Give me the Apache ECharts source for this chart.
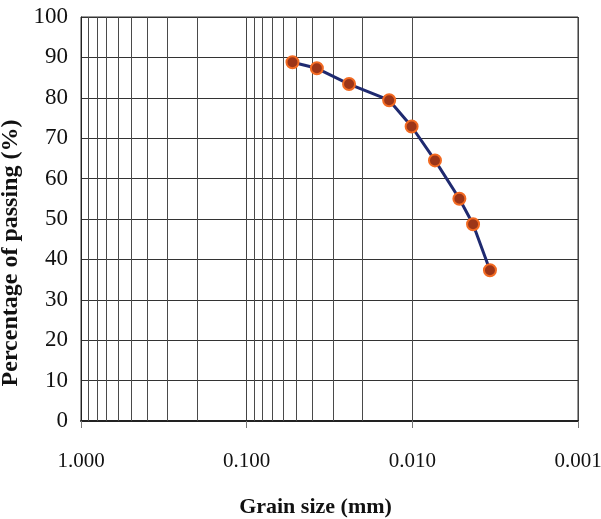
<!DOCTYPE html>
<html>
<head>
<meta charset="utf-8">
<script src="https://cdn.jsdelivr.net/npm/echarts@6/dist/echarts.min.js"></script>
<style>
  html, body { margin: 0; padding: 0; background: #fff; }
  #chart { width: 601px; height: 519px; }
</style>
</head>
<body>
<div id="chart"></div>
<script>
// grain size distribution (hydrometer part)
var grainSize = [0.0529, 0.0377, 0.0241, 0.0138, 0.0101, 0.0073, 0.0052, 0.0043, 0.0034];
var passing = [88.8, 87.3, 83.4, 79.4, 72.9, 64.5, 55.0, 48.7, 37.3];

// log grid: decades and the minor lines inside each decade
var decades = [1, 0.1, 0.01];
var minorSteps = [0.9, 0.8, 0.7, 0.6, 0.5, 0.4, 0.3, 0.2];

var serif = '"Liberation Serif", "Times New Roman", serif';

var minorLines = [];
decades.forEach(function (d) {
  minorSteps.forEach(function (m) {
    minorLines.push({ xAxis: +(d * m).toPrecision(3) });
  });
});

var chart = echarts.init(document.getElementById('chart'));
chart.setOption({
  animation: false,
  grid: {
    left: 81, right: 23, top: 17, bottom: 98,
    outerBoundsMode: 'none',
    containLabel: false,
    show: true,
    borderColor: '#333',
    borderWidth: 1
  },
  xAxis: {
    type: 'log',
    logBase: 10,
    min: 0.001,
    max: 1,
    inverse: true,
    name: 'Grain size (mm)',
    nameLocation: 'middle',
    nameGap: 75,
    nameTextStyle: {
      fontFamily: serif, fontSize: 22, fontWeight: 'bold', color: '#111',
      padding: [0, 28, 0, 0]
    },
    axisLine: { lineStyle: { color: '#222', width: 2 } },
    axisTick: { show: true, length: 7, lineStyle: { color: '#777' } },
    axisLabel: {
      margin: 30,
      fontFamily: serif,
      fontSize: 21,
      color: '#111',
      formatter: function (v) { return v.toFixed(3); }
    },
    splitLine: { show: true, lineStyle: { color: '#444', width: 1 } }
  },
  yAxis: {
    type: 'value',
    min: 0,
    max: 100,
    interval: 10,
    name: 'Percentage of passing (%)',
    nameLocation: 'middle',
    nameGap: 47,
    nameTextStyle: {
      fontFamily: serif, fontSize: 24, fontWeight: 'bold', color: '#111',
      padding: [0, 68, 0, 0]
    },
    axisLine: { show: true, lineStyle: { color: '#222', width: 1 } },
    axisTick: { show: false },
    axisLabel: { margin: 13, fontFamily: serif, fontSize: 23, color: '#111' },
    splitLine: { show: true, lineStyle: { color: '#333', width: 1 } }
  },
  series: [
    {
      type: 'line',
      data: [],
      silent: true,
      markLine: {
        silent: true,
        symbol: 'none',
        label: { show: false },
        lineStyle: { color: '#4a4a4a', width: 1, type: 'solid' },
        data: minorLines
      }
    },
    {
      type: 'line',
      data: grainSize.map(function (g, i) { return [g, passing[i]]; }),
      lineStyle: { color: '#1f2a70', width: 3 },
      symbol: 'circle',
      symbolSize: 12,
      itemStyle: { color: '#9c3518', borderColor: '#f26a22', borderWidth: 2 },
      z: 5
    }
  ]
});
</script>
</body>
</html>
